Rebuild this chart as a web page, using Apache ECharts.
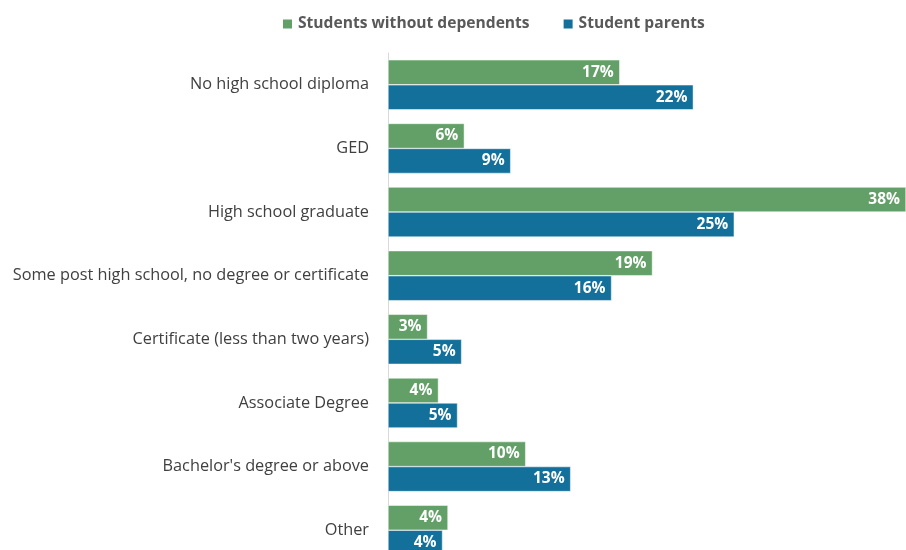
<!DOCTYPE html>
<html>
<head>
<meta charset="utf-8">
<script src="https://cdn.jsdelivr.net/npm/echarts@6/dist/echarts.min.js"></script>
<style>
  html, body { margin: 0; padding: 0; background: #fff; overflow: hidden; }
  /* the last category runs past the bottom edge of the window */
  #chart { width: 906px; height: 575px; }
</style>
</head>
<body>
<div id="chart"></div>
<script>
// Highest education level of parents: students without dependents vs student parents
const categories = [
  'No high school diploma',
  'GED',
  'High school graduate',
  'Some post high school, no degree or certificate',
  'Certificate (less than two years)',
  'Associate Degree',
  "Bachelor's degree or above",
  'Other'
];
const withoutDependents = [17.0, 5.6, 38.0, 19.4, 2.9, 3.7, 10.1, 4.4];
const studentParents = [22.4, 9.0, 25.4, 16.4, 5.4, 5.1, 13.4, 4.0];
const seriesNames = ['Students without dependents', 'Student parents'];

const FONT = '"Open Sans", "Noto Sans", sans-serif';

const chart = echarts.init(document.getElementById('chart'), null, { renderer: 'canvas' });

const labelStyle = {
  show: true,
  position: 'insideRight',
  color: '#ffffff',
  fontWeight: 'bold',
  fontSize: 15.5,
  fontFamily: FONT,
  distance: 6,
  formatter: p => Math.round(p.value) + '%'
};

chart.setOption({
  animation: false,
  backgroundColor: '#ffffff',
  legend: {
    top: 11,
    left: 276,
    itemWidth: 11,
    itemHeight: 11,
    itemGap: 32,
    icon: 'rect',
    textStyle: { color: '#595959', fontSize: 15.6, fontWeight: 'bold', fontFamily: FONT },
    data: seriesNames
  },
  grid: { left: 388, right: 0, top: 53, height: 509, containLabel: false },
  xAxis: {
    type: 'value',
    min: 0,
    max: 38,
    show: false
  },
  yAxis: {
    type: 'category',
    inverse: true,
    data: categories,
    axisLine: { show: true, lineStyle: { color: '#d9d9d9', width: 1 } },
    axisTick: { show: false },
    axisLabel: { color: '#404040', fontSize: 16.3, fontFamily: FONT, margin: 19 }
  },
  series: [
    {
      name: seriesNames[0],
      type: 'bar',
      data: withoutDependents,
      barWidth: 25,
      barGap: '0%',
      itemStyle: { color: '#62a067', borderColor: '#ffffff', borderWidth: 0.5 },
      label: labelStyle
    },
    {
      name: seriesNames[1],
      type: 'bar',
      data: studentParents,
      barWidth: 25,
      barGap: '0%',
      itemStyle: { color: '#13709b', borderColor: '#ffffff', borderWidth: 0.5 },
      label: labelStyle
    }
  ]
});
</script>
</body>
</html>
